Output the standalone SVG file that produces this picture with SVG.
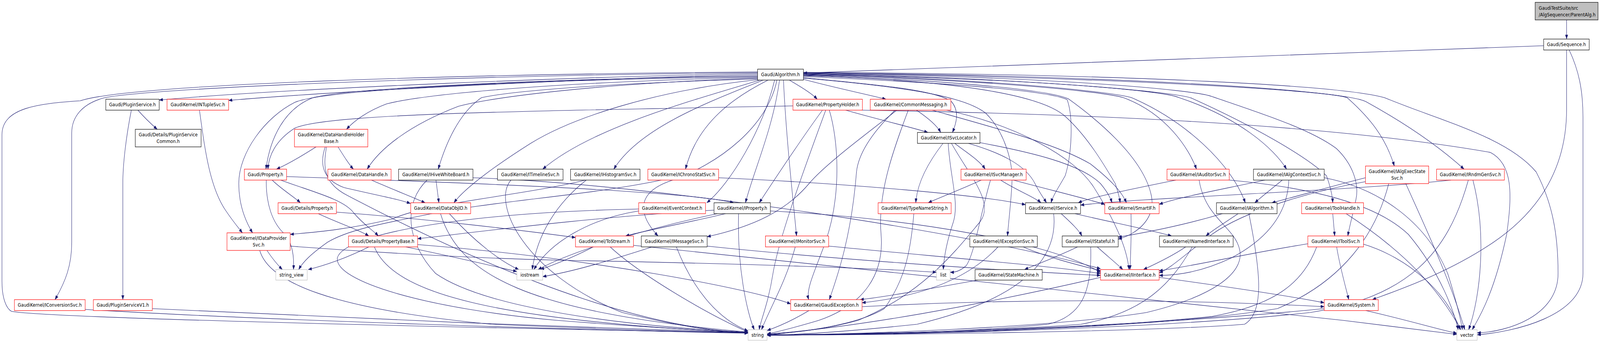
<svg xmlns="http://www.w3.org/2000/svg" width="4885" height="878" viewBox="0 0 4885 878" preserveAspectRatio="none" style="width:100vw;height:100vh;display:block">
<style>
.node rect{fill:#fff;stroke-width:1.2}
.red rect{stroke:#ff0000}
.blk rect{stroke:#000}
.gry rect{stroke:#bfbfbf}
.root rect{fill:#bfbfbf;stroke:#000}
text{font-family:"DejaVu Sans","Liberation Sans",sans-serif;font-size:13px;fill:#000;text-anchor:middle}
text.l{text-anchor:start}
.e path{fill:none;stroke:#191970;stroke-width:1.1;marker-end:url(#arr)}
</style>
<defs>
<marker id="arr" viewBox="0 0 11 8" refX="11" refY="4" markerWidth="11" markerHeight="8" markerUnits="userSpaceOnUse" orient="auto">
<path d="M0,0 L11,4 L0,8 z" fill="#191970" stroke="#191970" stroke-width="0.5"/>
</marker>
</defs>
<rect width="4885" height="878" fill="#fff"/>
<g id="edges" class="e">
<path d="M4783,51 L4783,100"/>
<path d="M4713,117 C4000,140 3000,168 2453,187"/>
<path d="M4791,128 C4820,180 4833,230 4833,300 L4833,700 C4833,810 4620,850 4510,857"/>
<path d="M4783,128 L4783,280 C4783,430 4700,540 4560,620 C4420,700 4260,745 4190,767"/>
<path d="M2313,188 C1800,196 900,225 486,256"/>
<path d="M2313,191 C1800,200 1000,235 698,257"/>
<path d="M2313,186 C1500,192 500,222 320,250 C250,265 219,300 219,340 L219,620 C219,680 200,720 168,767"/>
<path d="M2313,184 C1400,190 400,215 245,258 C120,265 6,275 6,345 L6,720 C6,765 20,790 35,797 C150,815 1500,840 2284,852"/>
<path d="M2313,194 C1500,205 1000,232 950,252 C870,280 825,350 812,433"/>
<path d="M2313,196 C1300,210 960,240 900,262 C810,300 729,390 729,470 C729,520 745,560 771,596"/>
<path d="M2313,198 C1700,210 1300,240 1180,266 C1120,285 1080,310 1058,331"/>
<path d="M2313,200 C1800,215 1500,250 1400,272 C1250,320 1160,380 1121,433"/>
<path d="M2313,202 C1800,215 1550,235 1470,250 C1400,290 1360,370 1338,433"/>
<path d="M2313,204 C2000,232 1750,300 1620,367 C1520,420 1420,480 1386,519"/>
<path d="M2320,205 C2100,260 1800,330 1657,433"/>
<path d="M2330,205 C2150,265 1950,330 1874,433"/>
<path d="M2345,205 C2250,245 2130,310 2093,433"/>
<path d="M2365,205 C2330,330 2230,470 2158,519"/>
<path d="M2380,205 C2360,330 2300,440 2276,519"/>
<path d="M2372,205 C2345,320 2200,420 2040,465 C1930,500 1960,560 2009,604"/>
<path d="M2392,205 C2400,350 2420,500 2432,604"/>
<path d="M2410,205 C2450,225 2480,240 2495,254"/>
<path d="M2453,203 C2550,225 2650,242 2705,254"/>
<path d="M2453,199 C2700,218 2860,232 2905,260 C2930,285 2920,315 2908,339"/>
<path d="M2453,200 C2800,225 2950,250 3010,290 C3070,340 3092,420 3090,460 C3088,510 3080,560 3076,604"/>
<path d="M2453,196 C2900,212 3200,232 3258,255 C3278,300 3272,400 3252,450 C3232,480 3215,500 3209,519"/>
<path d="M2453,194 C2900,205 3180,240 3255,300 C3320,350 3370,420 3405,470 C3413,490 3418,505 3420,519"/>
<path d="M2453,193 C2900,205 3200,230 3262,253 C3340,300 3490,400 3515,500 C3530,560 3470,600 3414,612"/>
<path d="M2453,192 C2900,200 3350,230 3430,250 C3560,290 3630,380 3653,433"/>
<path d="M2453,191 C3000,200 3400,235 3455,250 C3620,310 3760,420 3802,519"/>
<path d="M2453,190 C3100,200 3550,230 3600,250 C3780,300 3890,380 3928,433"/>
<path d="M2453,189 C3100,198 3600,235 3640,252 C3820,320 3990,400 4050,450 C4063,480 4068,500 4069,519"/>
<path d="M2453,188 C3200,195 3650,230 3700,247 C3850,290 4000,330 4080,380 C4130,420 4150,470 4140,510 C4130,550 4120,580 4115,604"/>
<path d="M2453,187 C3300,195 4050,230 4113,250 C4180,300 4230,350 4257,425"/>
<path d="M2453,186 C3400,193 4100,230 4170,260 C4300,320 4400,380 4470,433"/>
<path d="M2453,185 C3500,190 4100,220 4227,250 C4400,310 4600,350 4690,440 C4740,520 4757,600 4757,700 C4757,810 4600,850 4510,852"/>
<path d="M2421,271 C1600,285 1000,290 900,328 C840,360 820,400 818,433"/>
<path d="M2582,282 C2700,310 2780,325 2833,339"/>
<path d="M2511,282 C2460,340 2380,440 2318,519"/>
<path d="M2532,282 C2560,360 2570,500 2520,620 C2490,690 2460,740 2469,767"/>
<path d="M2633,282 C3200,290 4000,310 4550,390 C4620,420 4617,500 4600,600 C4560,760 4510,820 4495,844"/>
<path d="M2521,282 C2470,400 2380,600 2360,700 C2345,780 2322,820 2318,844"/>
<path d="M2798,282 C2830,300 2860,320 2872,339"/>
<path d="M2738,282 C2650,340 2520,420 2470,470 C2400,540 2300,580 2159,606"/>
<path d="M2733,282 C2650,350 2620,400 2615,440 C2600,600 2560,700 2532,767"/>
<path d="M2846,282 C3050,330 3230,370 3330,420 C3390,460 3425,490 3439,519"/>
<path d="M2890,282 C3100,320 3280,400 3340,480 C3400,560 3440,630 3447,690"/>
<path d="M2773,282 C2720,400 2680,500 2690,600 C2700,700 2640,780 2500,820 C2420,840 2380,848 2342,855"/>
<path d="M2879,367 C2830,420 2800,470 2796,519"/>
<path d="M2895,367 C2900,450 2930,520 2910,570 C2890,620 2882,660 2880,690"/>
<path d="M2915,367 C2950,390 2990,410 3008,433"/>
<path d="M2957,367 C3050,390 3130,420 3160,470 C3175,495 3185,505 3195,519"/>
<path d="M2991,365 C3150,390 3300,420 3360,470 C3380,490 3390,505 3395,519"/>
<path d="M2905,367 C2960,450 3040,520 2990,570 C2920,640 2820,750 2620,820 C2500,848 2400,852 2342,856"/>
<path d="M2996,461 C2920,490 2870,505 2834,519"/>
<path d="M3055,461 C3110,490 3160,505 3178,519"/>
<path d="M3094,461 C3200,485 3300,505 3373,523"/>
<path d="M3024,461 C2990,560 2975,650 2950,680 C2930,695 2915,697 2901,697"/>
<path d="M2790,547 C2780,650 2760,720 2700,790 C2600,840 2400,852 2342,858"/>
<path d="M3240,547 C3270,570 3295,590 3303,604"/>
<path d="M3282,547 C3400,570 3520,590 3577,604"/>
<path d="M3217,547 C3230,650 3150,760 2800,830 C2550,852 2420,857 2342,858"/>
<path d="M3453,547 C3455,600 3452,650 3450,690"/>
<path d="M3350,632 C3380,655 3410,675 3428,690"/>
<path d="M3290,632 C3220,660 3170,675 3128,690"/>
<path d="M3330,632 C3335,750 3300,810 3200,830 C2900,855 2500,857 2342,858"/>
<path d="M3620,632 C3580,655 3530,675 3491,690"/>
<path d="M3640,632 C3580,720 3500,800 3300,830 C3000,850 2500,857 2342,857"/>
<path d="M3780,547 C3740,570 3700,590 3682,604"/>
<path d="M3732,547 C3620,575 3500,595 3414,607"/>
<path d="M3813,547 C3850,700 3860,800 3800,830 C3500,850 2700,857 2342,858"/>
<path d="M3915,461 C3880,485 3850,505 3831,519"/>
<path d="M3862,461 C3700,490 3600,505 3539,523"/>
<path d="M3935,461 C3930,560 3850,620 3760,660 C3660,700 3580,705 3539,705"/>
<path d="M4043,455 C4200,480 4350,560 4420,700 C4450,780 4460,820 4465,844"/>
<path d="M3590,461 C3450,485 3330,505 3292,519"/>
<path d="M3661,461 C3680,560 3770,580 3785,640 C3800,700 3700,760 3500,800 C3200,840 2600,856 2342,858"/>
<path d="M3753,461 C4000,480 4200,520 4300,600 C4400,700 4440,800 4452,844"/>
<path d="M4169,465 C4000,490 3800,540 3700,600 C3620,650 3570,690 3539,698"/>
<path d="M4169,455 C4050,480 3950,505 3883,519"/>
<path d="M4292,470 C4340,560 4430,720 4472,844"/>
<path d="M4240,470 C4200,600 4100,720 3900,790 C3500,845 2700,857 2342,858"/>
<path d="M4069,547 L4075,604"/>
<path d="M4110,547 C4300,650 4400,750 4460,844"/>
<path d="M4081,632 C4090,680 4110,740 4118,767"/>
<path d="M3993,624 C3800,650 3650,680 3539,693"/>
<path d="M4020,632 C3980,720 3900,780 3700,810 C3300,845 2700,857 2342,858"/>
<path d="M4163,625 C4300,660 4420,750 4458,844"/>
<path d="M4497,461 C4540,600 4520,760 4484,844"/>
<path d="M4483,461 C4420,650 4300,760 4000,800 C3500,845 2700,857 2342,858"/>
<path d="M4430,461 C4100,490 3500,505 3299,525"/>
<path d="M4043,790 C3500,835 2800,855 2342,857"/>
<path d="M4170,795 C4300,820 4400,845 4448,853"/>
<path d="M3539,710 C3800,740 3950,760 4043,775"/>
<path d="M3360,710 C3000,780 2600,840 2342,855"/>
<path d="M2470,795 C2420,820 2380,835 2342,846"/>
<path d="M2632,785 C3200,760 3700,770 4043,785"/>
<path d="M2985,717 C2800,745 2700,760 2626,767"/>
<path d="M3047,632 C2950,720 2800,760 2632,775"/>
<path d="M3124,632 C3200,660 3300,680 3360,693"/>
<path d="M2530,630 C2900,660 3200,680 3360,700"/>
<path d="M2428,632 C2400,720 2350,790 2325,844"/>
<path d="M1991,632 C1850,670 1750,695 1657,708"/>
<path d="M2065,632 C2120,750 2200,820 2284,847"/>
<path d="M2159,630 C2500,660 3000,690 3360,705"/>
<path d="M1811,632 C1760,655 1700,675 1650,690"/>
<path d="M1863,632 C1950,700 2150,800 2284,850"/>
<path d="M1934,628 C2600,690 3500,760 4100,820 C4300,840 4400,850 4448,856"/>
<path d="M2215,547 C2100,570 1970,590 1910,604"/>
<path d="M2255,547 C2250,680 2280,800 2303,844"/>
<path d="M2352,540 C2800,560 3200,620 3360,697"/>
<path d="M2190,547 C2000,580 1750,640 1643,690"/>
<path d="M2180,538 C1800,555 1400,600 1275,611"/>
<path d="M1950,540 C1800,560 1680,620 1630,690"/>
<path d="M1950,535 C1400,545 1050,600 1030,660 C1020,720 1300,790 1700,820 C2000,840 2200,848 2284,852"/>
<path d="M1372,547 C1450,620 1530,670 1584,690"/>
<path d="M1345,547 C1400,700 1600,800 2284,850"/>
<path d="M1134,461 C1200,485 1260,505 1298,519"/>
<path d="M1331,461 L1340,519"/>
<path d="M1304,461 C1230,520 1240,620 1330,700 C1500,800 2000,840 2284,850"/>
<path d="M1444,455 C2000,470 3000,600 3360,688"/>
<path d="M1787,461 C1600,500 1300,520 1200,560 C1050,590 950,595 886,600"/>
<path d="M1790,461 C1700,520 1640,600 1625,690"/>
<path d="M2194,455 C2600,470 3000,500 3131,524"/>
<path d="M2019,461 C1800,500 1500,515 1300,550 C1150,575 1060,590 1000,620 C950,650 925,670 912,690"/>
<path d="M1560,461 C1500,520 1600,700 1900,800 C2100,840 2200,850 2284,852"/>
<path d="M831,461 C860,485 900,505 917,519"/>
<path d="M813,461 C812,520 830,570 870,600 C895,625 898,660 896,690"/>
<path d="M857,461 C950,490 1050,510 1080,545 C1110,575 1140,590 1155,604"/>
<path d="M875,452 C1500,470 2100,490 2240,519"/>
<path d="M972,547 C1030,570 1100,590 1126,604"/>
<path d="M1027,543 C1300,560 1600,590 1757,608"/>
<path d="M815,641 C830,660 850,680 862,690"/>
<path d="M793,641 C820,720 1000,790 1500,830 C1900,845 2200,851 2284,852"/>
<path d="M886,630 C1200,650 1500,662 1700,666 C2300,675 2700,688 2859,697"/>
<path d="M1126,632 C1060,660 990,680 941,690"/>
<path d="M1239,632 C1400,660 1500,680 1578,695"/>
<path d="M1143,632 C1200,750 1500,820 2284,852"/>
<path d="M1275,626 C1800,660 2300,740 2414,778"/>
<path d="M965,376 C920,400 880,420 844,433"/>
<path d="M1032,376 C1050,400 1065,420 1079,433"/>
<path d="M993,376 C975,420 985,460 1050,480 C1150,500 1220,510 1253,521"/>
<path d="M997,376 C985,430 990,470 1060,500 C1400,650 1900,840 2284,851"/>
<path d="M401,282 C385,350 375,420 375,470 L375,767"/>
<path d="M421,282 C440,300 465,320 480,331"/>
<path d="M609,282 C625,380 640,480 690,540 C710,565 725,580 740,596"/>
<path d="M260,792 C800,820 1800,845 2284,853"/>
<path d="M465,790 C900,810 1800,840 2284,852"/>
</g>
<g id="n_parentalg" class="node root"><rect x="4687" y="6" width="192" height="45"/><text class="l" x="4698" y="25">GaudiTestSuite/src</text><text class="l" x="4698" y="42">/AlgSequencer/ParentAlg.h</text></g>
<g id="n_sequence" class="node blk"><rect x="4713" y="100" width="139" height="28"/><text x="4782.5" y="118.5">Gaudi/Sequence.h</text></g>
<g id="n_algorithm" class="node blk"><rect x="2313" y="177" width="140" height="28"/><text x="2383" y="195.5">Gaudi/Algorithm.h</text></g>
<g id="n_pluginservice" class="node blk"><rect x="323" y="254" width="163" height="28"/><text x="404.5" y="272.5">Gaudi/PluginService.h</text></g>
<g id="n_ntuplesvc" class="node red"><rect x="510" y="254" width="188" height="28"/><text x="604" y="272.5">GaudiKernel/INTupleSvc.h</text></g>
<g id="n_propertyholder" class="node red"><rect x="2421" y="254" width="212" height="28"/><text x="2527" y="272.5">GaudiKernel/PropertyHolder.h</text></g>
<g id="n_commonmessaging" class="node red"><rect x="2657" y="254" width="246" height="28"/><text x="2780" y="272.5">GaudiKernel/CommonMessaging.h</text></g>
<g id="n_pluginservicecommon" class="node blk"><rect x="413" y="331" width="201" height="45"/><text x="513.5" y="349">Gaudi/Details/PluginService</text><text x="513.5" y="366">Common.h</text></g>
<g id="n_datahandleholderbase" class="node red"><rect x="899" y="331" width="224" height="45"/><text x="1011" y="349">GaudiKernel/DataHandleHolder</text><text x="1011" y="366">Base.h</text></g>
<g id="n_isvclocator" class="node blk"><rect x="2801" y="339" width="191" height="28"/><text x="2896.5" y="357.5">GaudiKernel/ISvcLocator.h</text></g>
<g id="n_property" class="node red"><rect x="746" y="433" width="129" height="28"/><text x="810.5" y="451.5">Gaudi/Property.h</text></g>
<g id="n_datahandle" class="node red"><rect x="1001" y="433" width="193" height="28"/><text x="1097.5" y="451.5">GaudiKernel/DataHandle.h</text></g>
<g id="n_ihivewhiteboard" class="node blk"><rect x="1217" y="433" width="227" height="28"/><text x="1330.5" y="451.5">GaudiKernel/IHiveWhiteBoard.h</text></g>
<g id="n_itimelinesvc" class="node blk"><rect x="1519" y="433" width="200" height="28"/><text x="1619" y="451.5">GaudiKernel/ITimelineSvc.h</text></g>
<g id="n_ihistogramsvc" class="node blk"><rect x="1742" y="433" width="212" height="28"/><text x="1848" y="451.5">GaudiKernel/IHistogramSvc.h</text></g>
<g id="n_ichronostatsvc" class="node red"><rect x="1978" y="433" width="216" height="28"/><text x="2086" y="451.5">GaudiKernel/IChronoStatSvc.h</text></g>
<g id="n_isvcmanager" class="node red"><rect x="2934" y="433" width="199" height="28"/><text x="3033.5" y="451.5">GaudiKernel/ISvcManager.h</text></g>
<g id="n_iauditorsvc" class="node red"><rect x="3563" y="433" width="190" height="28"/><text x="3658" y="451.5">GaudiKernel/IAuditorSvc.h</text></g>
<g id="n_ialgcontextsvc" class="node blk"><rect x="3827" y="433" width="216" height="28"/><text x="3935" y="451.5">GaudiKernel/IAlgContextSvc.h</text></g>
<g id="n_ialgexecstatesvc" class="node red"><rect x="4169" y="425" width="193" height="45"/><text x="4265.5" y="443">GaudiKernel/IAlgExecState</text><text x="4265.5" y="460">Svc.h</text></g>
<g id="n_irndmgensvc" class="node red"><rect x="4386" y="433" width="207" height="28"/><text x="4489.5" y="451.5">GaudiKernel/IRndmGenSvc.h</text></g>
<g id="n_detailsproperty" class="node red"><rect x="849" y="519" width="178" height="28"/><text x="938" y="537.5">Gaudi/Details/Property.h</text></g>
<g id="n_dataobjid" class="node red"><rect x="1254" y="519" width="183" height="28"/><text x="1345.5" y="537.5">GaudiKernel/DataObjID.h</text></g>
<g id="n_eventcontext" class="node red"><rect x="1950" y="519" width="204" height="28"/><text x="2052" y="537.5">GaudiKernel/EventContext.h</text></g>
<g id="n_iproperty" class="node blk"><rect x="2180" y="519" width="172" height="28"/><text x="2266" y="537.5">GaudiKernel/IProperty.h</text></g>
<g id="n_typenamestring" class="node red"><rect x="2681" y="519" width="223" height="28"/><text x="2792.5" y="537.5">GaudiKernel/TypeNameString.h</text></g>
<g id="n_iservice" class="node blk"><rect x="3131" y="519" width="168" height="28"/><text x="3215" y="537.5">GaudiKernel/IService.h</text></g>
<g id="n_smartif" class="node red"><rect x="3373" y="519" width="166" height="28"/><text x="3456" y="537.5">GaudiKernel/SmartIF.h</text></g>
<g id="n_ialgorithm" class="node blk"><rect x="3714" y="519" width="185" height="28"/><text x="3806.5" y="537.5">GaudiKernel/IAlgorithm.h</text></g>
<g id="n_toolhandle" class="node red"><rect x="3974" y="519" width="189" height="28"/><text x="4068.5" y="537.5">GaudiKernel/ToolHandle.h</text></g>
<g id="n_idataprovidersvc" class="node red"><rect x="693" y="596" width="193" height="45"/><text x="789.5" y="614">GaudiKernel/IDataProvider</text><text x="789.5" y="631">Svc.h</text></g>
<g id="n_propertybase" class="node red"><rect x="1064" y="604" width="211" height="28"/><text x="1169.5" y="622.5">Gaudi/Details/PropertyBase.h</text></g>
<g id="n_tostream" class="node red"><rect x="1757" y="604" width="177" height="28"/><text x="1845.5" y="622.5">GaudiKernel/ToStream.h</text></g>
<g id="n_imessagesvc" class="node blk"><rect x="1958" y="604" width="201" height="28"/><text x="2058.5" y="622.5">GaudiKernel/IMessageSvc.h</text></g>
<g id="n_imonitorsvc" class="node red"><rect x="2337" y="604" width="193" height="28"/><text x="2433.5" y="622.5">GaudiKernel/IMonitorSvc.h</text></g>
<g id="n_iexceptionsvc" class="node blk"><rect x="2961" y="604" width="206" height="28"/><text x="3064" y="622.5">GaudiKernel/IExceptionSvc.h</text></g>
<g id="n_istateful" class="node blk"><rect x="3243" y="604" width="171" height="28"/><text x="3328.5" y="622.5">GaudiKernel/IStateful.h</text></g>
<g id="n_inamedinterface" class="node blk"><rect x="3540" y="604" width="225" height="28"/><text x="3652.5" y="622.5">GaudiKernel/INamedInterface.h</text></g>
<g id="n_itoolsvc" class="node red"><rect x="3993" y="604" width="170" height="28"/><text x="4078" y="622.5">GaudiKernel/IToolSvc.h</text></g>
<g id="n_string_view" class="node gry"><rect x="842" y="690" width="96" height="27"/><text x="890" y="708">string_view</text></g>
<g id="n_iostream" class="node gry"><rect x="1578" y="690" width="79" height="27"/><text x="1617.5" y="708">iostream</text></g>
<g id="n_list" class="node gry"><rect x="2859" y="690" width="42" height="27"/><text x="2880" y="708">list</text></g>
<g id="n_statemachine" class="node blk"><rect x="2977" y="690" width="205" height="27"/><text x="3079.5" y="708">GaudiKernel/StateMachine.h</text></g>
<g id="n_iinterface" class="node red"><rect x="3360" y="690" width="179" height="27"/><text x="3449.5" y="708">GaudiKernel/IInterface.h</text></g>
<g id="n_iconversionsvc" class="node red"><rect x="44" y="767" width="216" height="28"/><text x="152" y="785.5">GaudiKernel/IConversionSvc.h</text></g>
<g id="n_pluginservicev1" class="node red"><rect x="285" y="767" width="180" height="28"/><text x="375" y="785.5">Gaudi/PluginServiceV1.h</text></g>
<g id="n_gaudiexception" class="node red"><rect x="2414" y="767" width="218" height="28"/><text x="2523" y="785.5">GaudiKernel/GaudiException.h</text></g>
<g id="n_system" class="node red"><rect x="4043" y="767" width="165" height="28"/><text x="4125.5" y="785.5">GaudiKernel/System.h</text></g>
<g id="n_string" class="node gry"><rect x="2284" y="844" width="58" height="27"/><text x="2313" y="862">string</text></g>
<g id="n_vector" class="node gry"><rect x="4448" y="844" width="62" height="27"/><text x="4479" y="862">vector</text></g>
</svg>
